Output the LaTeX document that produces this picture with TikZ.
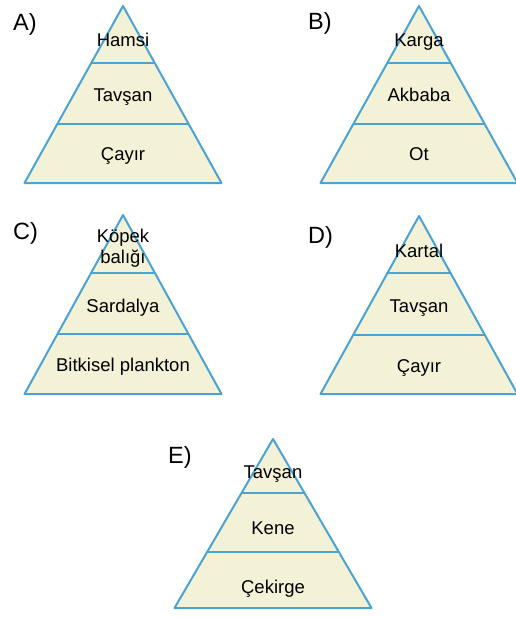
\documentclass[tikz,border=0pt]{standalone}
\usepackage{fontspec}
\setmainfont{Liberation Sans}
\definecolor{kum}{HTML}{F3F2D6}
\definecolor{cizgi}{HTML}{4BA3D4}
\begin{document}
\begin{tikzpicture}[x=1pt,y=-1pt,
  kat/.style={font=\fontsize{18.5}{20}\selectfont, anchor=base, inner sep=0pt},
  harf/.style={font=\fontsize{23.5}{26}\selectfont, anchor=base west, inner sep=0pt}]
  \useasboundingbox (0,0) rectangle (515,618);
  % piramitler: tepe x / tepe y / yukseklik
  \foreach \x/\y/\h in {123/6/177, 419/6/177, 123/215/179, 419/216/178, 273/439/169} {
    \draw[cizgi, fill=kum, line width=2pt, line join=round] (\x,\y) -- ++(98.5,\h) -- ++(-197,0) -- cycle;
    \draw[cizgi, line width=2pt] ({\x-0.322*98.5},{\y+0.322*\h}) -- ({\x+0.322*98.5},{\y+0.322*\h});
    \draw[cizgi, line width=2pt] ({\x-0.667*98.5},{\y+0.667*\h}) -- ({\x+0.667*98.5},{\y+0.667*\h});
  }
  % A
  \node[harf] (a) at (13,31) {A)};
  \node[kat] (a1) at (123,47) {Hamsi};
  \node[kat] (a2) at (123,101) {Tavşan};
  \node[kat] (a3) at (123,160) {Çayır};
  % B
  \node[harf] (b) at (308,30) {B)};
  \node[kat] (b1) at (419,47) {Karga};
  \node[kat] (b2) at (419,101) {Akbaba};
  \node[kat] (b3) at (419,160) {Ot};
  % C
  \node[harf] (c) at (13,239) {C)};
  \node[kat] (c1) at (123,242) {Köpek};
  \node[kat] (c1b) at (123,263) {balığı};
  \node[kat] (c2) at (123,312) {Sardalya};
  \node[kat] (c3) at (123,371) {Bitkisel plankton};
  % D
  \node[harf] (d) at (308,243) {D)};
  \node[kat] (d1) at (419,257) {Kartal};
  \node[kat] (d2) at (419,312) {Tavşan};
  \node[kat] (d3) at (419,372) {Çayır};
  % E
  \node[harf] (e) at (168,463) {E)};
  \node[kat] (e1) at (273,478) {Tavşan};
  \node[kat] (e2) at (273,534) {Kene};
  \node[kat] (e3) at (273,593) {Çekirge};
\end{tikzpicture}
\end{document}
